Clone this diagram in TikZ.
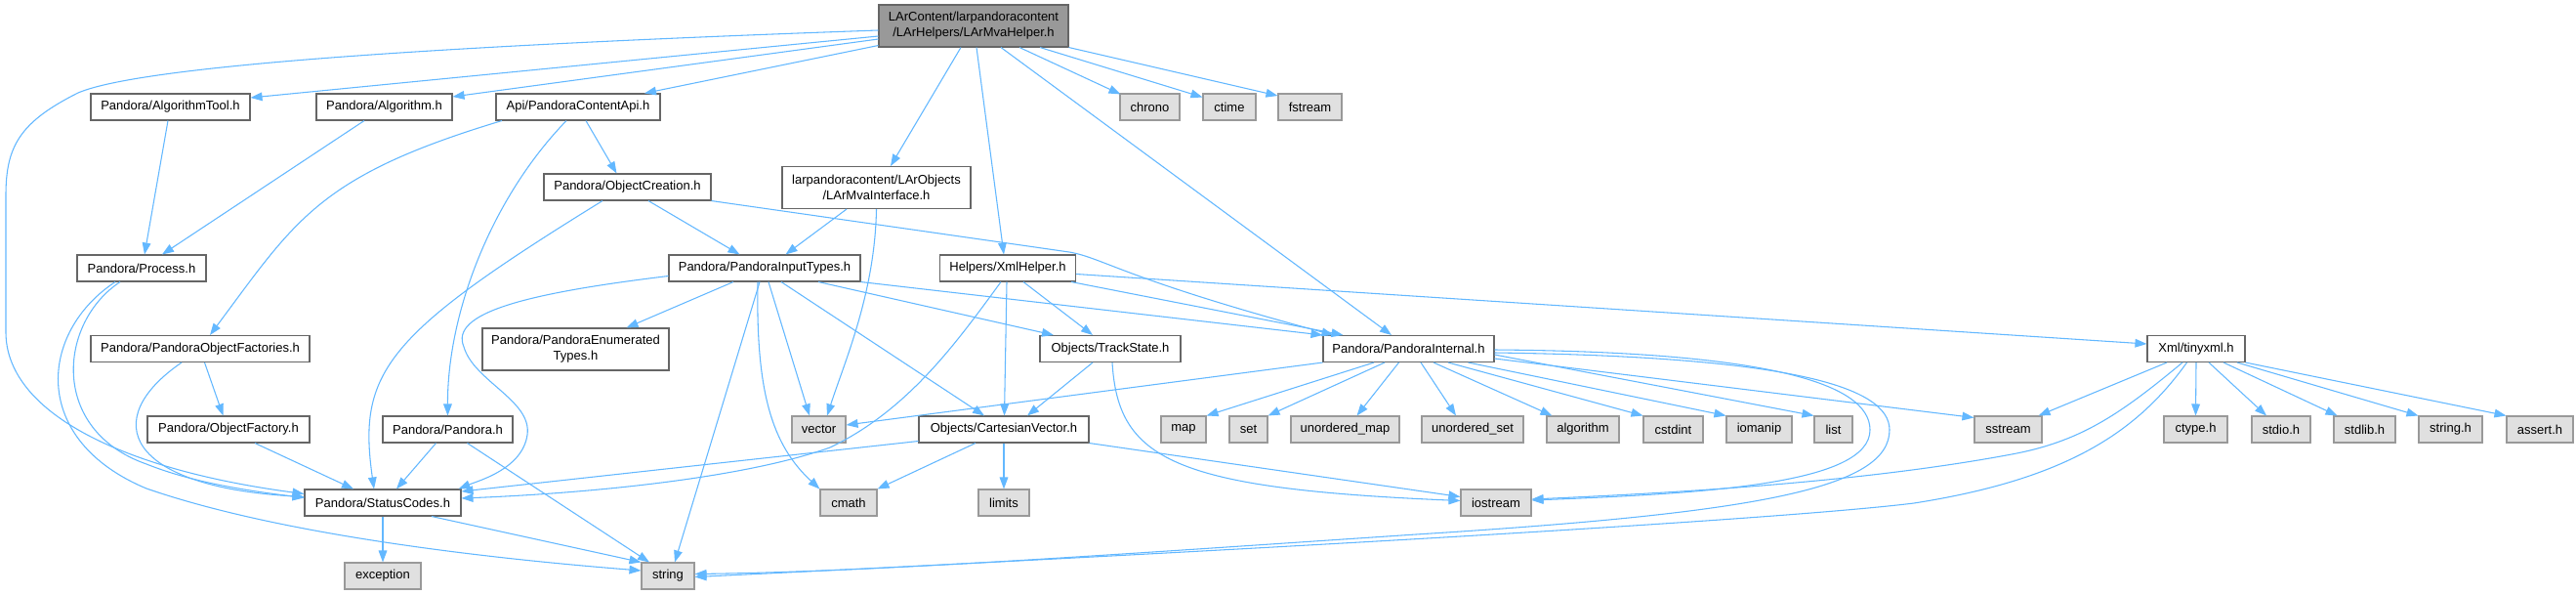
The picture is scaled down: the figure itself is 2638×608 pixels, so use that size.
\documentclass[tikz,border=0pt]{standalone}
\usepackage{fontspec}
\setmainfont{Liberation Sans}
\usetikzlibrary{arrows.meta}
\definecolor{edgec}{HTML}{63B8FF}
\definecolor{bordc}{HTML}{666666}
\definecolor{sysb}{HTML}{999999}
\definecolor{sysf}{HTML}{E0E0E0}
\definecolor{mainf}{HTML}{999999}
\begin{document}
\begin{tikzpicture}[x=0.75pt,y=-0.75pt,
  hdr/.style={draw=bordc, fill=white, line width=0.8pt, inner sep=0pt, minimum height=20.25pt, font=\fontsize{9.75}{12}\selectfont, align=center, text=black},
  sys/.style={hdr, draw=sysb, fill=sysf},
  topn/.style={hdr, fill=mainf, minimum height=32.25pt},
  two/.style={minimum height=32.25pt},
  bw/.style={minimum width=#1*0.75pt},
  lnk/.style={draw=edgec, line width=0.8pt, -{Triangle[length=9pt,width=6.5pt]}}]
\fill[white] (0,0) rectangle (2638,608);
\useasboundingbox (0,0) rectangle (2638,608);
% nodes
\node[topn,bw=194] (main) at (997,26.5) {LArContent/larpandoracontent\\/LArHelpers/LArMvaHelper.h};
\node[hdr,bw=163] (atool) at (174.5,109.5) {Pandora/AlgorithmTool.h};
\node[hdr,bw=139] (alg) at (393.5,109.5) {Pandora/Algorithm.h};
\node[hdr,bw=168] (api) at (592,109.5) {Api/PandoraContentApi.h};
\node[sys,bw=61] (chrono) at (1177.5,109.5) {chrono};
\node[sys,bw=54] (ctime) at (1259,109.5) {ctime};
\node[sys,bw=65] (fstr) at (1341.5,109.5) {fstream};
\node[hdr,bw=171] (oc) at (642.5,191.5) {Pandora/ObjectCreation.h};
\node[hdr,two,bw=193] (mi) at (897.5,192) {larpandoracontent/LArObjects\\/LArMvaInterface.h};
\node[hdr,bw=132] (proc) at (145,274.5) {Pandora/Process.h};
\node[hdr,bw=196] (pit) at (783,274.5) {Pandora/PandoraInputTypes.h};
\node[hdr,bw=139] (xml) at (1032,274.5) {Helpers/XmlHelper.h};
\node[hdr,bw=224] (pof) at (205,357) {Pandora/PandoraObjectFactories.h};
\node[hdr,two,bw=191] (pet) at (589.5,357.5) {Pandora/PandoraEnumerated\\Types.h};
\node[hdr,bw=144] (ts) at (1137,357) {Objects/TrackState.h};
\node[hdr,bw=175] (pint) at (1442.5,357) {Pandora/PandoraInternal.h};
\node[hdr,bw=100] (tx) at (2249,357) {Xml/tinyxml.h};
\node[hdr,bw=166] (of) at (234,439.5) {Pandora/ObjectFactory.h};
\node[hdr,bw=133] (pan) at (458.5,439.5) {Pandora/Pandora.h};
\node[sys,bw=55] (vec) at (838.5,439.5) {vector};
\node[hdr,bw=174] (cv) at (1028,439.5) {Objects/CartesianVector.h};
\node[sys,bw=46] (nmap) at (1212,439.5) {map};
\node[sys,bw=39] (nset) at (1278.5,439.5) {set};
\node[sys,bw=111] (umap) at (1377.5,439.5) {unordered\_map};
\node[sys,bw=104] (uset) at (1508,439.5) {unordered\_set};
\node[sys,bw=74] (algo) at (1621,439.5) {algorithm};
\node[sys,bw=61] (cstd) at (1713.5,439.5) {cstdint};
\node[sys,bw=67] (ioma) at (1801.5,439.5) {iomanip};
\node[sys,bw=39] (lst) at (1877.5,439.5) {list};
\node[sys,bw=69] (sstr) at (2056.5,439.5) {sstream};
\node[sys,bw=65] (ctype) at (2248.5,439.5) {ctype.h};
\node[sys,bw=60] (stdio) at (2336,439.5) {stdio.h};
\node[sys,bw=63] (stdl) at (2421.5,439.5) {stdlib.h};
\node[sys,bw=65] (strh) at (2509.5,439.5) {string.h};
\node[sys,bw=68] (asrt) at (2601,439.5) {assert.h};
\node[hdr,bw=160] (sc) at (392,514.5) {Pandora/StatusCodes.h};
\node[sys,bw=58] (cmath) at (869,514.5) {cmath};
\node[sys,bw=52] (lim) at (1028,514.5) {limits};
\node[sys,bw=72] (ios) at (1532,514.5) {iostream};
\node[sys,bw=78] (exc) at (392,589.5) {exception};
\node[sys,bw=54] (str) at (684,589.5) {string};
% main edges
\draw[lnk] ([shift={(0,4.5)}]main.west) .. controls (500,45) and (150,65) .. (80,95) .. controls (20,125) and (6,150) .. (6,200) -- (6,340) .. controls (6,420) and (120,480) .. ([shift={(0,-9)}]sc.west);
\draw[lnk] ([shift={(0,10.5)}]main.west) -- ([shift={(0,-9.5)}]atool.east);
\draw[lnk] ([shift={(0,13.5)}]main.west) -- ([shift={(0,-10.5)}]alg.east);
\draw[lnk] ([shift={(0,20)}]main.west) -- ([shift={(68,0)}]api.north);
\draw[lnk] ([shift={(-13,0)}]main.south) -- ([shift={(14.5,0)}]mi.north);
\draw[lnk] ([shift={(3,0)}]main.south) -- ([shift={(-4,0)}]xml.north);
\draw[lnk] ([shift={(28,0)}]main.south) -- ([shift={(-17.5,0)}]pint.north);
\draw[lnk] ([shift={(47,0)}]main.south) -- ([shift={(1,1)}]chrono.north west);
\draw[lnk] ([shift={(68,0)}]main.south) -- ([shift={(0,-10)}]ctime.west);
\draw[lnk] (main.south east) -- ([shift={(0,-11.5)}]fstr.west);
% upper left
\draw[lnk] ([shift={(-2.5,0)}]atool.south) -- ([shift={(3,0)}]proc.north);
\draw[lnk] ([shift={(-20.5,0)}]alg.south) -- ([shift={(21,0)}]proc.north);
\draw[lnk] ([shift={(-78,0)}]api.south) .. controls (326,180) and (303,225) .. ([shift={(10,0)}]pof.north);
\draw[lnk] ([shift={(-12,0)}]api.south) .. controls (503,203) and (458,321) .. (pan.north);
\draw[lnk] ([shift={(8,0)}]api.south) -- ([shift={(-11,0)}]oc.north);
% object creation
\draw[lnk] ([shift={(-25.5,0)}]oc.south) .. controls (394,343) and (366,381) .. ([shift={(-9,0)}]sc.north);
\draw[lnk] ([shift={(21.5,0)}]oc.south) -- ([shift={(-25.5,0)}]pit.north);
\draw[lnk] (oc.south east) -- (1095,258) .. controls (1130,264) and (1150,285) .. ([shift={(11,0)}]pint.north west);
% mva interface
\draw[lnk] ([shift={(-30.5,0)}]mi.south) -- ([shift={(21.5,0)}]pit.north);
\draw[lnk] (mi.south) .. controls (896,300) and (865,370) .. ([shift={(8.5,0)}]vec.north);
% input types
\draw[lnk] ([shift={(-32,0)}]pit.south) -- ([shift={(52,0)}]pet.north);
\draw[lnk] ([shift={(0,8)}]pit.west) .. controls (540,300) and (460,320) .. (475,355) .. controls (485,390) and (545,410) .. (540,445) .. controls (535,480) and (490,492) .. ([shift={(-3,0)}]sc.north east);
\draw[lnk] ([shift={(-5,0)}]pit.south) -- ([shift={(7,0)}]str.north);
\draw[lnk] ([shift={(4,0)}]pit.south) -- ([shift={(-9.5,0)}]vec.north);
\draw[lnk] ([shift={(-7,0)}]pit.south) .. controls (774,400) and (790,455) .. (cmath.north west);
\draw[lnk] ([shift={(17,0)}]pit.south) -- ([shift={(-20,0)}]cv.north);
\draw[lnk] ([shift={(55,0)}]pit.south) -- ([shift={(14.5,0)}]ts.north west);
\draw[lnk] (pit.south east) -- (pint.north west);
% xml helper
\draw[lnk] ([shift={(-7,0)}]xml.south) .. controls (980,350) and (930,420) .. (850,458) .. controls (760,490) and (600,505) .. ([shift={(0,-4.5)}]sc.east);
\draw[lnk] ([shift={(-1,0)}]xml.south) -- ([shift={(0.5,0)}]cv.north);
\draw[lnk] ([shift={(16,0)}]xml.south) -- ([shift={(-18,0)}]ts.north);
\draw[lnk] ([shift={(-5,0)}]xml.south east) -- ([shift={(21,0)}]pint.north west);
\draw[lnk] ([shift={(0,6)}]xml.east) -- ([shift={(0,-5)}]tx.west);
% track state
\draw[lnk] ([shift={(-18,0)}]ts.south) -- ([shift={(24,0)}]cv.north);
\draw[lnk] ([shift={(2,0)}]ts.south) .. controls (1145,470) and (1200,500) .. ([shift={(0,-2)}]ios.west);
% cartesian vector
\draw[lnk] ([shift={(0,12)}]cv.west) -- ([shift={(0,-11.5)}]sc.east);
\draw[lnk] ([shift={(-29,0)}]cv.south) -- (cmath.north east);
\draw[lnk] (cv.south) -- (lim.north);
\draw[lnk] (cv.south east) -- ([shift={(0,-6)}]ios.west);
% pandora internal
\draw[lnk] (pint.south west) -- ([shift={(0,-4.5)}]vec.east);
\draw[lnk] ([shift={(-35.5,0)}]pint.south) -- (nmap.north east);
\draw[lnk] ([shift={(-24.5,0)}]pint.south) -- (nset.north east);
\draw[lnk] ([shift={(-10,0)}]pint.south) -- ([shift={(12,0)}]umap.north);
\draw[lnk] ([shift={(12.5,0)}]pint.south) -- ([shift={(-17,0)}]uset.north);
\draw[lnk] ([shift={(25.5,0)}]pint.south) -- ([shift={(6,0)}]algo.north west);
\draw[lnk] ([shift={(40.5,0)}]pint.south) -- (cstd.north west);
\draw[lnk] ([shift={(61,0)}]pint.south) -- (ioma.north west);
\draw[lnk] ([shift={(0,6)}]pint.east) -- (lst.north west);
\draw[lnk] ([shift={(0,10)}]pint.east) -- ([shift={(0,2)}]sstr.north west);
\draw[lnk] ([shift={(0,1)}]pint.east) .. controls (1800,360) and (1915,390) .. (1915,440) .. controls (1915,495) and (1750,505) .. ([shift={(0,-2.5)}]ios.east);
\draw[lnk] ([shift={(0,4)}]pint.east) .. controls (1830,365) and (1935,395) .. (1935,440) .. controls (1935,500) and (1800,525) .. (1450,547) .. controls (1150,567) and (900,585) .. ([shift={(0,-2)}]str.east);
% tinyxml
\draw[lnk] ([shift={(-30,0)}]tx.south) -- ([shift={(-4,0)}]sstr.north east);
\draw[lnk] (tx.south) -- (ctype.north);
\draw[lnk] ([shift={(13,0)}]tx.south) -- ([shift={(-15,0)}]stdio.north);
\draw[lnk] ([shift={(28,0)}]tx.south) -- ([shift={(4,0)}]stdl.north west);
\draw[lnk] ([shift={(42,0)}]tx.south) -- (strh.north west);
\draw[lnk] (tx.south east) -- (asrt.north west);
\draw[lnk] ([shift={(-14,0)}]tx.south) .. controls (2170,425) and (2130,452) .. (2060,465) .. controls (1900,495) and (1700,505) .. ([shift={(0,-3.5)}]ios.east);
\draw[lnk] ([shift={(-9.5,0)}]tx.south) .. controls (2190,440) and (2120,490) .. (1960,515) .. controls (1800,535) and (1100,572) .. ([shift={(0,1)}]str.east);
% status codes and lower left
\draw[lnk] (sc.south) -- (exc.north);
\draw[lnk] ([shift={(50,0)}]sc.south) -- (str.north west);
\draw[lnk] ([shift={(-12,0)}]pan.south) -- ([shift={(14,0)}]sc.north);
\draw[lnk] ([shift={(20,0)}]pan.south) -- ([shift={(-19,0)}]str.north);
\draw[lnk] ([shift={(27,0)}]of.south) -- ([shift={(-30,0)}]sc.north);
\draw[lnk] ([shift={(4.5,0)}]pof.south) -- ([shift={(-5.5,0)}]of.north);
\draw[lnk] ([shift={(-19,0)}]pof.south) .. controls (100,430) and (130,498) .. ([shift={(0,-6)}]sc.west);
\draw[lnk] ([shift={(-22,0)}]proc.south) .. controls (60,330) and (50,440) .. (150,475) .. controls (200,495) and (260,503) .. ([shift={(0,-5)}]sc.west);
\draw[lnk] ([shift={(-27,0)}]proc.south) .. controls (40,340) and (30,450) .. (150,500) .. controls (280,545) and (480,570) .. ([shift={(0,-5.5)}]str.west);
\end{tikzpicture}
\end{document}
